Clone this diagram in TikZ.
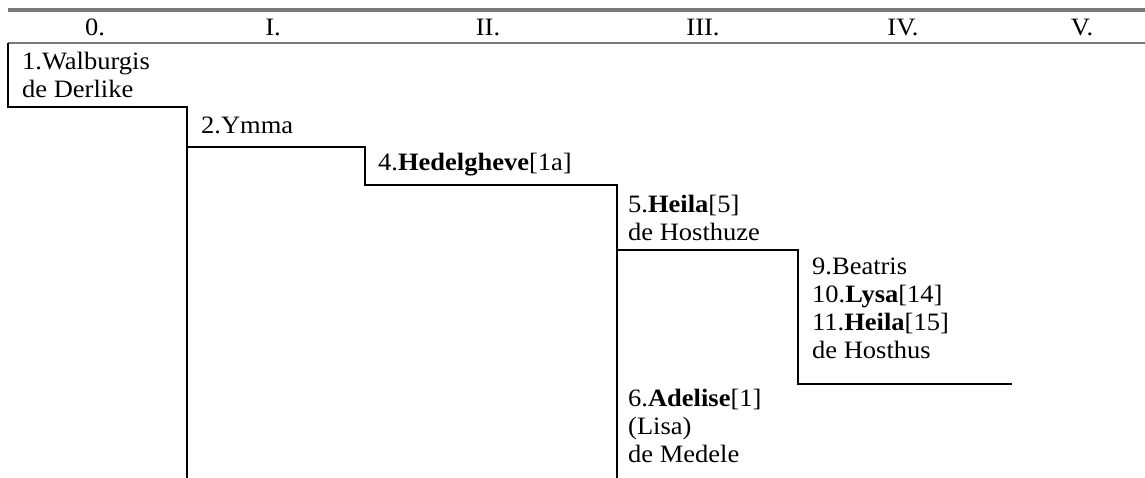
\documentclass[tikz,border=0pt]{standalone}
\usepackage{fontspec}
\setmainfont{Liberation Serif}[FakeStretch=1.06]
\newcommand{\fstrut}{\rule{0pt}{20pt}}
\tikzset{
  person/.style={anchor=north west, inner sep=0pt, align=left,
    font=\fontsize{25}{28}\selectfont},
  header/.style={anchor=base, inner sep=0pt, font=\fontsize{25}{28}\selectfont},
  tree/.style={line width=2.2pt, line cap=rect, line join=miter},
  rulethick/.style={draw=gray!95!black!100, line width=3.5pt},
  rulethin/.style={draw=gray!95!black!100, line width=2pt}
}
\begin{document}
\begin{tikzpicture}[x=1pt, y=-1pt]
\useasboundingbox (0,0) rectangle (1145,478);
% header rules
\draw[rulethick] (8,10) -- (1145,10);
\draw[rulethin] (8,43.5) -- (1145,43.5);
% headers
\node[header] (h0) at (95,36) {0.};
\node[header] (h1) at (273,36) {I.};
\node[header] (h2) at (488,36) {II.};
\node[header] (h3) at (703,36) {III.};
\node[header] (h4) at (903,36) {IV.};
\node[header] (h5) at (1082,36) {V.};
% tree lines
\draw[tree] (8,44.5) -- (8,107) -- (187,107) -- (187,479);
\draw[tree] (187,147) -- (365,147) -- (365,185) -- (617,185) -- (617,479);
\draw[tree] (617,250) -- (798,250) -- (798,384) -- (1011,384);
% persons
\node[person] (p1) at (22,69-20) {\fstrut 1.Walburgis\\de Derlike};
\node[person] (p2) at (201,133-20) {\fstrut 2.Ymma};
\node[person] (p4) at (378,170-20) {\fstrut 4.\textbf{Hedelgheve}[1a]};
\node[person] (p5) at (628,212-20) {\fstrut 5.\textbf{Heila}[5]\\de Hosthuze};
\node[person] (p9) at (812,274-20) {\fstrut 9.Beatris\\10.\textbf{Lysa}[14]\\11.\textbf{Heila}[15]\\de Hosthus};
\node[person] (p6) at (628,406-20) {\fstrut 6.\textbf{Adelise}[1]\\(Lisa)\\de Medele};
\end{tikzpicture}
\end{document}
